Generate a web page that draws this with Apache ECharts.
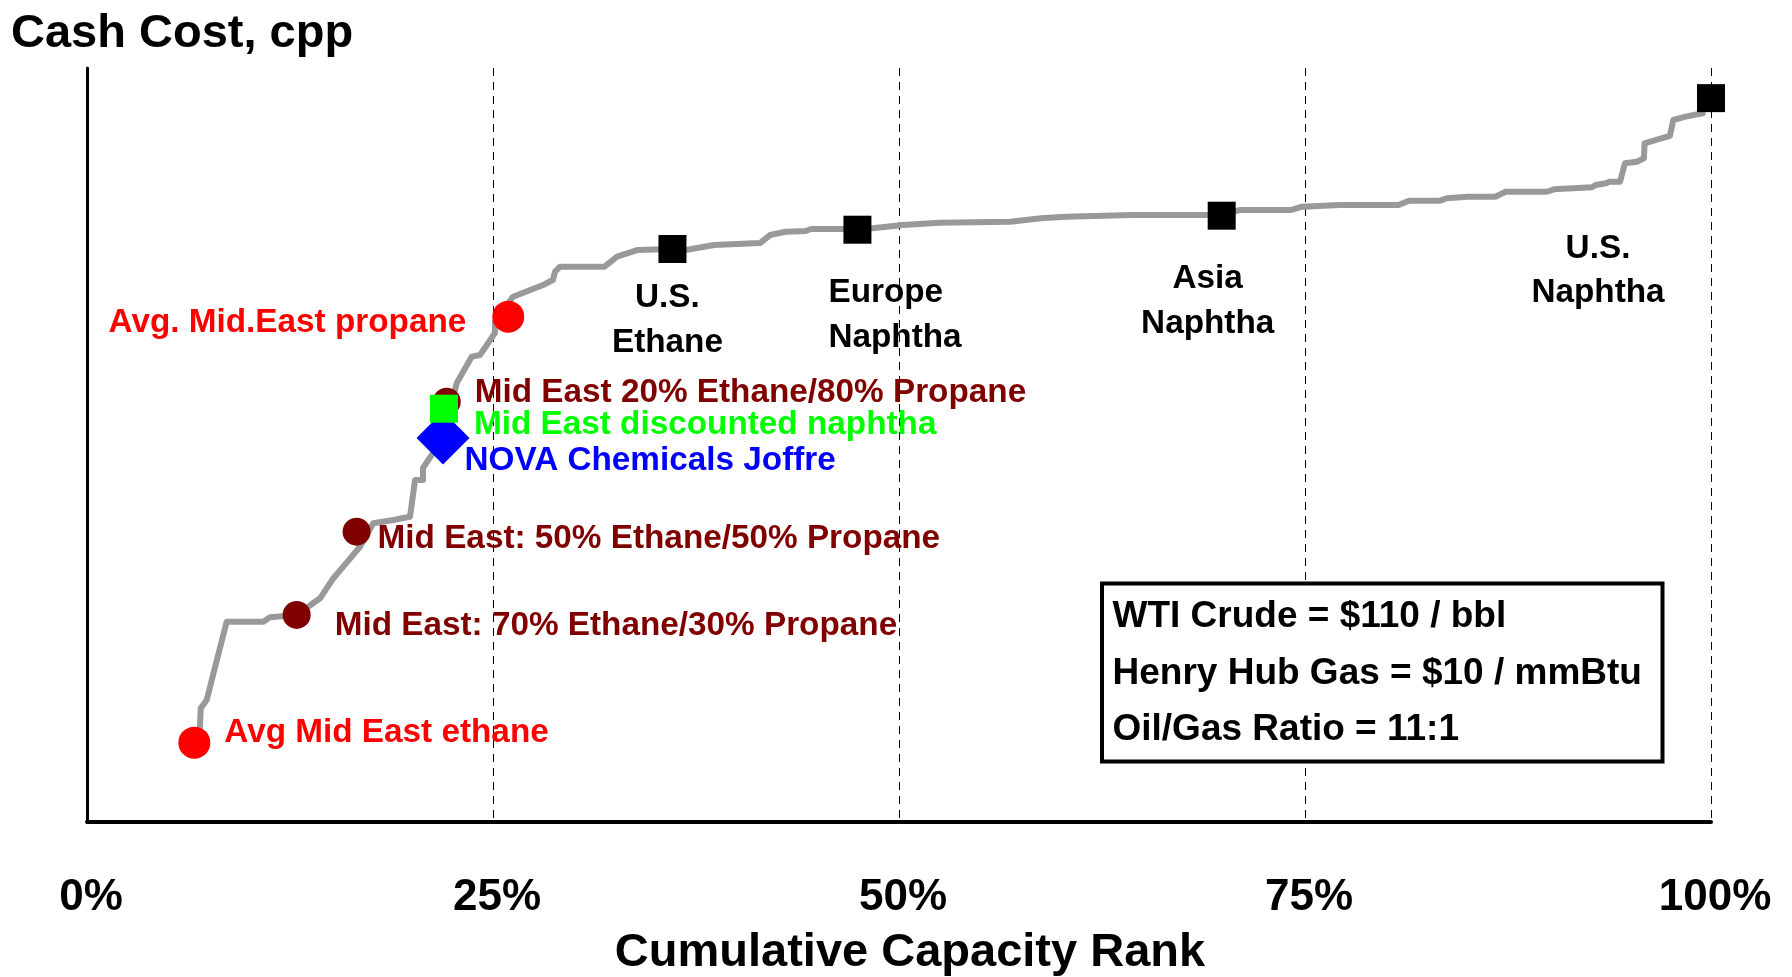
<!DOCTYPE html>
<html><head><meta charset="utf-8">
<script src="https://cdn.jsdelivr.net/npm/echarts@6/dist/echarts.min.js"></script>
<style>html,body{margin:0;padding:0;background:#fff}#c{width:1792px;height:977px}</style>
</head><body><div id="c"></div>
<script>
// ---- data (y is an unlabeled cash-cost scale 0..100) ----
const rankTickLabels = ['0%', '25%', '50%', '75%', '100%'];
const curveRank = [6.83, 6.96, 7.0, 7.37, 8.6, 10.86, 11.27, 12.91, 14.35, 15.17, 15.78, 16.81, 17.63, 18.86, 19.89, 20.2, 20.69, 20.69, 21.3, 21.92, 22.77, 23.69, 24.2, 25.12, 25.12, 26.23, 28.08, 28.69, 28.82, 29.13, 31.87, 32.64, 33.92, 36.05, 36.88, 38.61, 41.44, 42.06, 43.02, 44.27, 44.58, 47.47, 48.34, 50.25, 52.46, 56.84, 58.74, 60.28, 64.41, 69.89, 71.0, 74.17, 74.82, 77.16, 80.76, 81.4, 83.31, 83.74, 85.02, 86.72, 87.36, 89.9, 90.33, 92.67, 92.9, 93.53, 93.75, 94.4, 94.7, 95.44, 95.87, 95.91, 96.73, 97.47, 97.68, 98.43, 99.49];
const curveCost = [10.55, 12.58, 15.02, 16.12, 26.52, 26.52, 27.1, 27.41, 29.62, 32.28, 33.82, 36.47, 39.58, 40.01, 40.45, 45.32, 45.32, 46.92, 48.9, 50.9, 58.2, 61.69, 61.91, 64.83, 66.33, 69.65, 71.2, 71.86, 72.97, 73.63, 73.63, 74.96, 75.85, 75.98, 75.85, 76.51, 76.77, 77.83, 78.27, 78.37, 78.63, 78.63, 78.72, 79.16, 79.47, 79.6, 80.05, 80.26, 80.49, 80.49, 81.16, 81.16, 81.59, 81.82, 81.82, 82.39, 82.39, 82.71, 82.92, 82.92, 83.58, 83.58, 83.9, 84.17, 84.47, 84.7, 84.91, 84.91, 87.35, 87.56, 88.02, 90.0, 90.54, 90.98, 93.1, 93.54, 93.99];
const plantNames = ['Avg Mid East ethane', 'Mid East: 70% Ethane/30% Propane', 'Mid East: 50% Ethane/50% Propane', 'Mid East 20% Ethane/80% Propane', 'NOVA Chemicals Joffre', 'Mid East discounted naphtha', 'Avg. Mid.East propane', 'U.S.\nEthane', 'Europe\nNaphtha', 'Asia\nNaphtha', 'U.S.\nNaphtha'];
const plantRank = [6.61, 12.91, 16.6, 22.15, 21.92, 21.98, 25.94, 36.05, 47.44, 69.87, 100];
const plantCost = [10.46, 27.41, 38.46, 55.71, 50.9, 54.78, 67.0, 75.98, 78.54, 80.4, 96.0];
const assumptionLines = ['WTI Crude = $110 / bbl', 'Henry Hub Gas = $10 / mmBtu', 'Oil/Gas Ratio = 11:1'];

// ---- styles (kept apart from the data) ----
const FONT = '"Liberation Sans", Arial, sans-serif';
const RED = '#FF0000', MAROON = '#800000', GREEN = '#00FF00', BLUE = '#0000FF', BLACK = '#000000';
const plantStyles = [
  { symbol: 'circle', size: 32, color: RED, pos: 'right', off: [14, -10] },
  { symbol: 'circle', size: 28, color: MAROON, pos: 'right', off: [24, 11] },
  { symbol: 'circle', size: 28, color: MAROON, pos: 'right', off: [7, 7] },
  { symbol: 'circle', size: 28, color: MAROON, pos: 'right', off: [14, -9] },
  { symbol: 'diamond', size: 53, color: BLUE, pos: 'right', off: [-5, 23] },
  { symbol: 'rect', size: 28, color: GREEN, pos: 'right', off: [16, 16] },
  { symbol: 'circle', size: 32, color: RED, pos: 'left', off: [-26, 6] },
  { symbol: 'rect', size: 28, color: BLACK, pos: 'bottom', off: [-5, 13], labelColor: BLACK },
  { symbol: 'rect', size: 28, color: BLACK, pos: 'bottom', off: [-29, 27], labelColor: BLACK, align: 'left' },
  { symbol: 'rect', size: 28, color: BLACK, pos: 'bottom', off: [-14, 27], labelColor: BLACK },
  { symbol: 'rect', size: 28, color: BLACK, pos: 'bottom', off: [-113, 114], labelColor: BLACK }
];

const curveData = curveRank.map((r, i) => [r, curveCost[i]]);
const plantData = plantNames.map((n, i) => {
  const s = plantStyles[i];
  const label = {
    show: true, formatter: n, position: s.pos, distance: 0, offset: s.off,
    color: s.labelColor || s.color, fontFamily: FONT, fontWeight: 'bold', fontSize: 33.3, lineHeight: 44.5
  };
  if (s.align) label.align = s.align;
  return {
    name: n, value: [plantRank[i], plantCost[i]],
    symbol: s.symbol, symbolSize: s.size,
    itemStyle: { color: s.color, opacity: 1 },
    label: label
  };
});

const chart = echarts.init(document.getElementById('c'), null, { renderer: 'canvas' });
chart.setOption({
  animation: false,
  backgroundColor: '#ffffff',
  grid: { left: 87, right: 81, top: 68, bottom: 155.5, containLabel: false, outerBoundsMode: 'none' },
  xAxis: {
    type: 'value', min: 0, max: 100, interval: 25,
    name: 'Cumulative Capacity Rank', nameLocation: 'middle', nameGap: 108,
    nameTextStyle: { fontFamily: FONT, fontWeight: 'bold', fontSize: 47, color: BLACK, padding: [0, 0, 0, 22] },
    axisLine: { show: true, lineStyle: { color: BLACK, width: 4 } },
    axisTick: { show: false },
    axisLabel: {
      margin: 54, fontFamily: FONT, fontWeight: 'bold', fontSize: 44, color: BLACK, padding: [0, 0, 0, 8],
      formatter: v => rankTickLabels[Math.round(v / 25)]
    },
    splitLine: { show: true, lineStyle: { color: BLACK, width: 1, type: [8, 6] } }
  },
  yAxis: {
    type: 'value', min: 0, max: 100,
    axisLine: { show: true, lineStyle: { color: BLACK, width: 3 } },
    axisTick: { show: false }, axisLabel: { show: false }, splitLine: { show: false }
  },
  graphic: [
    { type: 'text', left: 11, top: 11, style: { text: 'Cash Cost, cpp', font: 'bold 47px ' + FONT, fill: BLACK } },
    { type: 'rect', shape: { x: 1102, y: 583.5, width: 560.5, height: 178 }, style: { fill: '#fff', stroke: BLACK, lineWidth: 4 }, z: 10 },
    { type: 'text', x: 1112.5, y: 589, z: 11,
      style: { text: assumptionLines.join('\n'), font: 'bold 37px ' + FONT, fill: BLACK, lineHeight: 56.5, verticalAlign: 'top', align: 'left' } }
  ],
  series: [
    {
      type: 'line', data: curveData, showSymbol: false, symbol: 'none', silent: true,
      lineStyle: { color: '#999999', width: 6, join: 'round', cap: 'round' }, z: 2
    },
    {
      type: 'scatter', data: plantData, z: 3, silent: true
    }
  ]
});
</script>
</body></html>
